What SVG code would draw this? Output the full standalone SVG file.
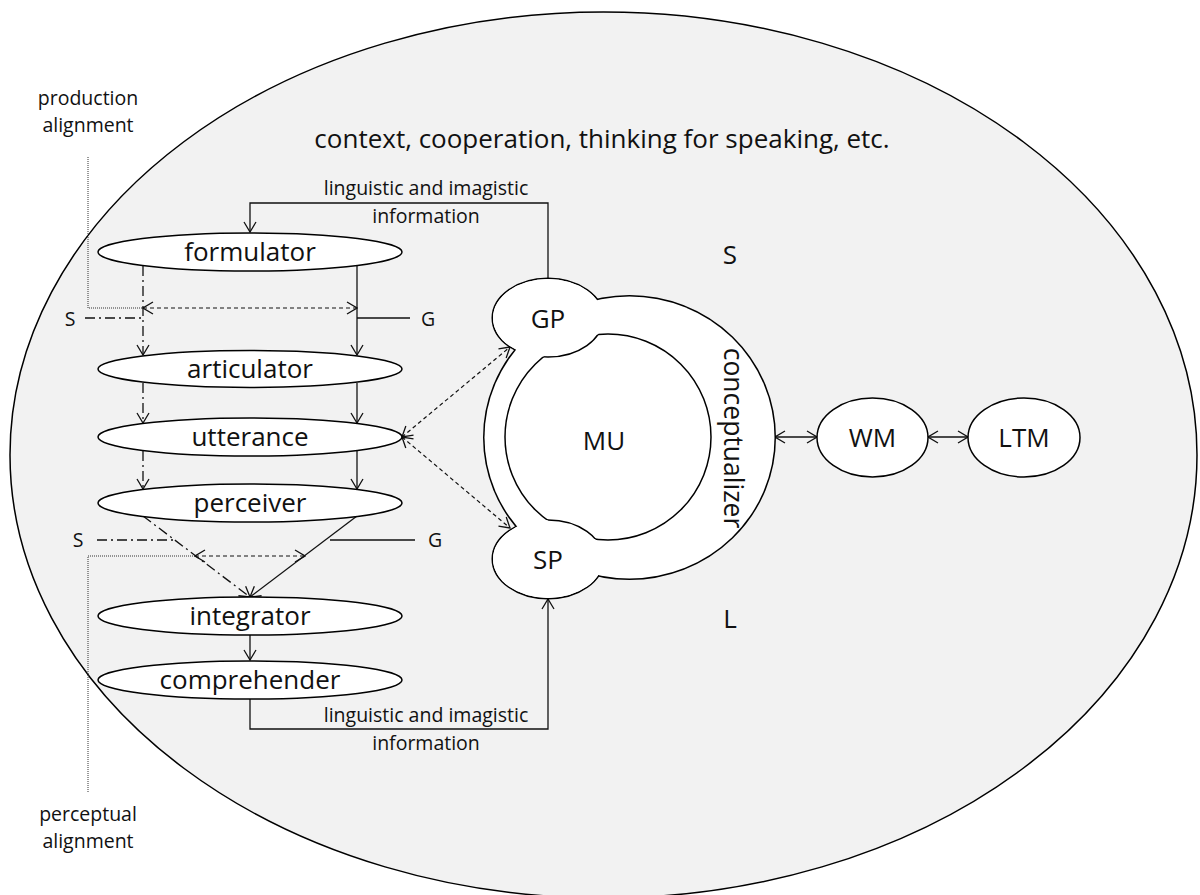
<svg xmlns="http://www.w3.org/2000/svg" xmlns:xlink="http://www.w3.org/1999/xlink" width="1200" height="895" viewBox="0 0 1200 895">
  <defs>
    <style>
      text { font-family: "Open Sans", "Liberation Sans", sans-serif; fill: #111; }
      .node { fill: #fff; stroke: #000; stroke-width: 1.5; }
      .lbl { font-size: 26px; text-anchor: middle; }
      .sm { font-size: 19.5px; text-anchor: middle; }
      .line { fill: none; stroke: #111; stroke-width: 1.3; }
      .dashdot { fill: none; stroke: #111; stroke-width: 1.3; stroke-dasharray: 10 4 2 4; }
      .dash { fill: none; stroke: #111; stroke-width: 1.2; stroke-dasharray: 4 3; }
      .dot { fill: none; stroke: #333; stroke-width: 1; stroke-dasharray: 1 1; }
      .halo { fill: #fff; stroke: #000; stroke-width: 3; }
      .fillonly { fill: #fff; stroke: none; }
    </style>
    <marker id="arr" viewBox="-11 -7 12 14" refX="0" refY="0" markerWidth="12" markerHeight="14" markerUnits="userSpaceOnUse" orient="auto-start-reverse">
      <path d="M-10,-6 L0,0 L-10,6" fill="none" stroke="#111" stroke-width="1.3"/>
    </marker>
    <ellipse id="ring-outer" cx="629.5" cy="437.5" rx="145" ry="141"/>
    <ellipse id="gp-shape" cx="548" cy="318" rx="55" ry="39"/>
    <ellipse id="sp-shape" cx="548" cy="559" rx="55" ry="39"/>
    <clipPath id="mu-clip">
      <circle cx="608" cy="437" r="103"/>
    </clipPath>
  </defs>

  <!-- surrounding context -->
  <g id="context">
    <ellipse cx="603.5" cy="455" rx="593.5" ry="443" fill="#f2f2f2" stroke="#000" stroke-width="1.5"/>
    <text x="602" y="148" font-size="26" text-anchor="middle">context, cooperation, thinking for speaking, etc.</text>
  </g>

  <!-- side labels -->
  <g id="production-alignment">
    <text class="sm" x="88" y="105">production</text>
    <text class="sm" x="88" y="132">alignment</text>
  </g>
  <g id="perceptual-alignment">
    <text class="sm" x="88" y="821">perceptual</text>
    <text class="sm" x="88" y="848">alignment</text>
  </g>
  <g id="stream-labels">
    <text class="sm" x="70" y="326">S</text>
    <text class="sm" x="428" y="326">G</text>
    <text class="sm" x="78" y="547">S</text>
    <text class="sm" x="435" y="547">G</text>
    <text x="730" y="264" font-size="26" text-anchor="middle">S</text>
    <text x="730" y="628" font-size="26" text-anchor="middle">L</text>
  </g>

  <!-- connectors -->
  <g id="connectors">
    <!-- gesture planner feedback to formulator -->
    <path class="line" d="M548,279 V203 H250 V232" marker-end="url(#arr)"/>
    <text class="sm" x="426" y="195">linguistic and imagistic</text>
    <text class="sm" x="426" y="223">information</text>

    <!-- production chain: speech (dash-dot) and gesture (solid) -->
    <path class="dashdot" d="M143,266 V355" marker-end="url(#arr)"/>
    <path class="line" d="M357,266 V355" marker-end="url(#arr)"/>
    <path class="dashdot" d="M143,383 V423" marker-end="url(#arr)"/>
    <path class="line" d="M357,383 V423" marker-end="url(#arr)"/>
    <path class="dashdot" d="M143,451 V489" marker-end="url(#arr)"/>
    <path class="line" d="M357,451 V489" marker-end="url(#arr)"/>

    <!-- perception converging on integrator -->
    <path class="dashdot" d="M143,516 L250,597" marker-end="url(#arr)"/>
    <path class="line" d="M357,516 L250,597" marker-end="url(#arr)"/>
    <path class="line" d="M250,635 V660" marker-end="url(#arr)"/>

    <!-- comprehender back to speech planner -->
    <path class="line" d="M250,699 V729 H548 V599" marker-end="url(#arr)"/>
    <text class="sm" x="426" y="722">linguistic and imagistic</text>
    <text class="sm" x="426" y="750">information</text>

    <!-- S / G stream ticks -->
    <path class="dashdot" d="M85,318 H143"/>
    <path class="line" d="M357,318 H410"/>
    <path class="dashdot" d="M97,540 H174"/>
    <path class="line" d="M330,540 H415"/>

    <!-- alignment links -->
    <path class="dot" d="M88,157 V308 H143"/>
    <path class="dash" d="M143,308 H357" marker-start="url(#arr)" marker-end="url(#arr)"/>
    <path class="dot" d="M88,792 V556 H195"/>
    <path class="dash" d="M195,556 H305" marker-start="url(#arr)" marker-end="url(#arr)"/>

    <!-- utterance to planners -->
    <path class="dash" d="M402,437 L510,347" marker-start="url(#arr)" marker-end="url(#arr)"/>
    <path class="dash" d="M402,437 L510,528" marker-start="url(#arr)" marker-end="url(#arr)"/>

    <!-- memory links -->
    <path class="line" d="M775,437 H817" marker-start="url(#arr)" marker-end="url(#arr)"/>
    <path class="line" d="M928,437 H968" marker-start="url(#arr)" marker-end="url(#arr)"/>
  </g>

  <!-- processing stages -->
  <g id="formulator">
    <ellipse class="node" cx="250" cy="252" rx="152" ry="19"/>
    <text class="lbl" x="250" y="261">formulator</text>
  </g>
  <g id="articulator">
    <ellipse class="node" cx="250" cy="369" rx="152" ry="18.5"/>
    <text class="lbl" x="250" y="378">articulator</text>
  </g>
  <g id="utterance">
    <ellipse class="node" cx="250" cy="437" rx="152" ry="19"/>
    <text class="lbl" x="250" y="446">utterance</text>
  </g>
  <g id="perceiver">
    <ellipse class="node" cx="250" cy="503" rx="152" ry="19"/>
    <text class="lbl" x="250" y="512">perceiver</text>
  </g>
  <g id="integrator">
    <ellipse class="node" cx="250" cy="616" rx="152" ry="19"/>
    <text class="lbl" x="250" y="625">integrator</text>
  </g>
  <g id="comprehender">
    <ellipse class="node" cx="250" cy="680" rx="152" ry="19"/>
    <text class="lbl" x="250" y="689">comprehender</text>
  </g>

  <!-- conceptualizer ring merged with the two planners -->
  <g id="conceptualizer">
    <use href="#ring-outer" class="halo"/>
    <use href="#gp-shape" class="halo"/>
    <use href="#sp-shape" class="halo"/>
    <use href="#ring-outer" class="fillonly"/>
    <use href="#gp-shape" class="fillonly"/>
    <use href="#sp-shape" class="fillonly"/>
    <text font-size="26.5" text-anchor="middle" transform="translate(724,438) rotate(90)">conceptualizer</text>
  </g>
  <g id="MU">
    <circle class="node" cx="608" cy="437" r="103"/>
    <text class="lbl" x="604" y="450">MU</text>
  </g>
  <g id="GP">
    <use href="#gp-shape" class="fillonly"/>
    <use href="#gp-shape" fill="none" stroke="#000" stroke-width="1.5" clip-path="url(#mu-clip)"/>
    <text class="lbl" x="548" y="328">GP</text>
  </g>
  <g id="SP">
    <use href="#sp-shape" class="fillonly"/>
    <use href="#sp-shape" fill="none" stroke="#000" stroke-width="1.5" clip-path="url(#mu-clip)"/>
    <text class="lbl" x="548" y="569">SP</text>
  </g>

  <!-- memory stores -->
  <g id="WM">
    <ellipse class="node" cx="872.5" cy="437.5" rx="55.5" ry="39.5"/>
    <text class="lbl" x="872.5" y="447">WM</text>
  </g>
  <g id="LTM">
    <ellipse class="node" cx="1024" cy="437.5" rx="56" ry="39.5"/>
    <text class="lbl" x="1024" y="447">LTM</text>
  </g>
</svg>
